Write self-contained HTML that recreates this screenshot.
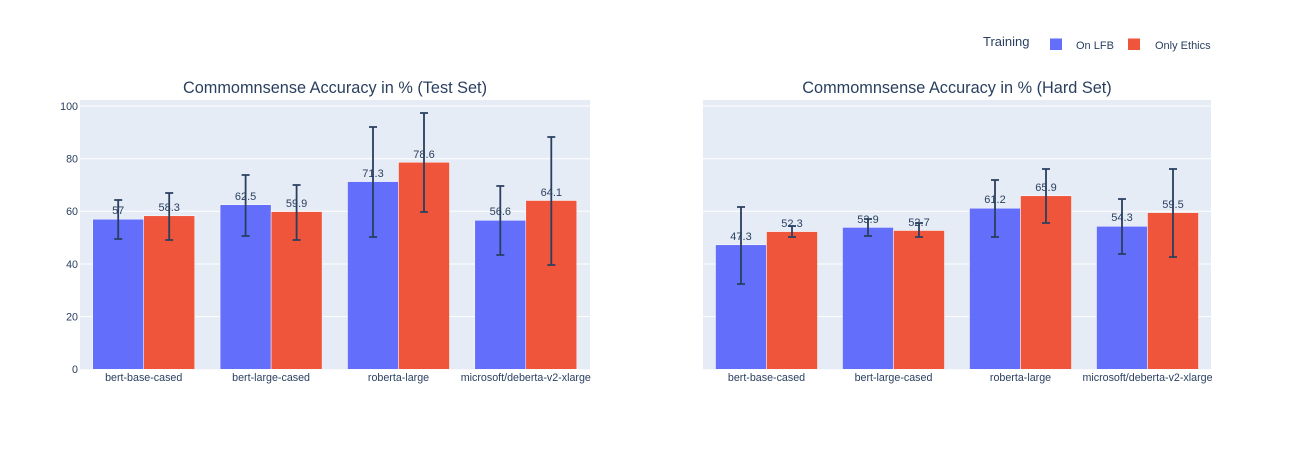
<!DOCTYPE html>
<html><head><meta charset="utf-8"><style>body{margin:0;background:#fff}svg{display:block}text{font-family:"Liberation Sans",sans-serif;fill:#2a3f5f}</style></head><body>
<svg width="1291" height="450" viewBox="0 0 1291 450">
<rect x="80" y="100" width="510" height="269.3" fill="#e5ecf6"/>
<rect x="703" y="100" width="508" height="269.3" fill="#e5ecf6"/>
<g stroke="#fff" stroke-width="1">
<line x1="80" x2="590" y1="316.6" y2="316.6"/><line x1="80" x2="590" y1="264" y2="264"/><line x1="80" x2="590" y1="211.3" y2="211.3"/><line x1="80" x2="590" y1="158.7" y2="158.7"/><line x1="80" x2="590" y1="106" y2="106"/>
<line x1="703" x2="1211" y1="316.6" y2="316.6"/><line x1="703" x2="1211" y1="264" y2="264"/><line x1="703" x2="1211" y1="211.3" y2="211.3"/><line x1="703" x2="1211" y1="158.7" y2="158.7"/><line x1="703" x2="1211" y1="106" y2="106"/>
</g>
<g font-size="10.7" text-anchor="end">
<text x="78" y="373">0</text><text x="78" y="320.5">20</text><text x="78" y="268">40</text><text x="78" y="215">60</text><text x="78" y="162.5">80</text><text x="78" y="110">100</text>
</g>
<g stroke="#fff" stroke-width="0.5">
<rect x="92.7" y="219.2" width="51" height="150.1" fill="#636efa"/><rect x="143.7" y="215.8" width="51" height="153.5" fill="#ef553b"/>
<rect x="220.1" y="204.7" width="51" height="164.6" fill="#636efa"/><rect x="271.1" y="211.6" width="51" height="157.7" fill="#ef553b"/>
<rect x="347.5" y="181.6" width="51" height="187.7" fill="#636efa"/><rect x="398.5" y="162.3" width="51" height="207" fill="#ef553b"/>
<rect x="474.8" y="220.3" width="51" height="149" fill="#636efa"/><rect x="525.8" y="200.5" width="51" height="168.8" fill="#ef553b"/>
<rect x="715.5" y="244.8" width="51" height="124.5" fill="#636efa"/><rect x="766.5" y="231.6" width="51" height="137.7" fill="#ef553b"/>
<rect x="842.5" y="227.4" width="51" height="141.9" fill="#636efa"/><rect x="893.5" y="230.5" width="51" height="138.8" fill="#ef553b"/>
<rect x="969.5" y="208.2" width="51" height="161.1" fill="#636efa"/><rect x="1020.5" y="195.8" width="51" height="173.5" fill="#ef553b"/>
<rect x="1096.5" y="226.3" width="51" height="143" fill="#636efa"/><rect x="1147.5" y="212.6" width="51" height="156.7" fill="#ef553b"/>
</g>
<g font-size="11" text-anchor="middle">
<text x="118.2" y="214">57</text><text x="169.2" y="211">58.3</text>
<text x="245.6" y="200">62.5</text><text x="296.6" y="207">59.9</text>
<text x="373" y="177">71.3</text><text x="424" y="158">78.6</text>
<text x="500.3" y="215">56.6</text><text x="551.3" y="196">64.1</text>
<text x="741" y="240">47.3</text><text x="792" y="227">52.3</text>
<text x="868" y="223">53.9</text><text x="919" y="226">52.7</text>
<text x="995" y="203">61.2</text><text x="1046" y="191">65.9</text>
<text x="1122" y="221">54.3</text><text x="1173" y="208">59.5</text>
</g>
<g stroke="#2a3f5f" stroke-width="1.8" fill="none">
<path d="M118.2 200V239M114.2 200h8M114.2 239h8"/><path d="M169.2 193V240M165.2 193h8M165.2 240h8"/>
<path d="M245.6 175V236M241.6 175h8M241.6 236h8"/><path d="M296.6 185V240M292.6 185h8M292.6 240h8"/>
<path d="M373 127V237M369 127h8M369 237h8"/><path d="M424 113V212M420 113h8M420 212h8"/>
<path d="M500.3 186V255M496.3 186h8M496.3 255h8"/><path d="M551.3 137V265M547.3 137h8M547.3 265h8"/>
<path d="M741 207V284M737 207h8M737 284h8"/><path d="M792 226V237M788 226h8M788 237h8"/>
<path d="M868 219V236M864 219h8M864 236h8"/><path d="M919 223V237M915 223h8M915 237h8"/>
<path d="M995 180V237M991 180h8M991 237h8"/><path d="M1046 169V223M1042 169h8M1042 223h8"/>
<path d="M1122 199V254M1118 199h8M1118 254h8"/><path d="M1173 169V257M1169 169h8M1169 257h8"/>
</g>
<g font-size="10.7" text-anchor="middle">
<text x="143.7" y="381">bert-base-cased</text><text x="271.1" y="381">bert-large-cased</text><text x="398.5" y="381">roberta-large</text><text x="525.8" y="381">microsoft/deberta-v2-xlarge</text>
<text x="766.5" y="381">bert-base-cased</text><text x="893.5" y="381">bert-large-cased</text><text x="1020.5" y="381">roberta-large</text><text x="1147.5" y="381">microsoft/deberta-v2-xlarge</text>
</g>
<text x="335" y="93" font-size="16.3" text-anchor="middle">Commomnsense Accuracy in % (Test Set)</text>
<text x="957" y="93" font-size="16.3" text-anchor="middle">Commomnsense Accuracy in % (Hard Set)</text>
<text x="983" y="46" font-size="13">Training</text>
<rect x="1050" y="38.5" width="12" height="11.5" fill="#636efa"/>
<text x="1076" y="49" font-size="11">On LFB</text>
<rect x="1128" y="38.5" width="12" height="11.5" fill="#ef553b"/>
<text x="1155" y="49" font-size="11">Only Ethics</text>
</svg>
</body></html>
